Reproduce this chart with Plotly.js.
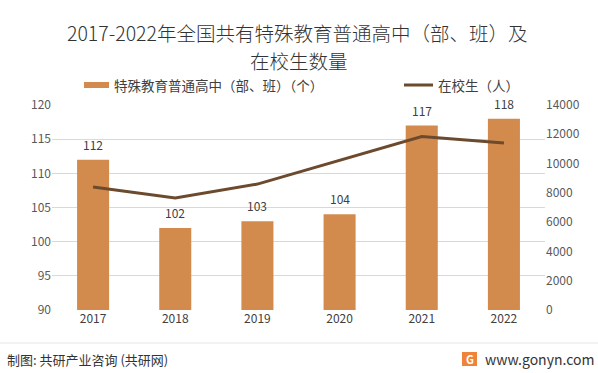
<!DOCTYPE html>
<html><head><meta charset="utf-8">
<script src="https://cdn.plot.ly/plotly-3.0.1.min.js"></script>
<style>html,body{margin:0;padding:0;background:#fff}#chart{width:598px;height:373px}</style>
</head><body><div id="chart"></div>
<script>
const titleLines = ['2017-2022年全国共有特殊教育普通高中（部、班）及', '在校生数量'];
const years = ['2017','2018','2019','2020','2021','2022'];
const schools = [112, 102, 103, 104, 117, 118];
const students = [8400, 7650, 8600, 10200, 11850, 11400];
const leftTicks = [90, 95, 100, 105, 110, 115, 120];
const rightTicks = [0, 2000, 4000, 6000, 8000, 10000, 12000, 14000];
const seriesNames = ['特殊教育普通高中（部、班）（个）', '在校生（人）'];

const font = '"Noto Sans CJK SC", "Noto Sans", sans-serif';
const barColor = '#D38B4D', lineColor = '#6B4A2D';
// pixel helpers for decorations outside the plot area
const L = 52, R = 545, T = 105, B = 310;
const px = x => (x - L) / (R - L);
const py = y => (B - y) / (B - T);

const traces = [
  {type:'bar', x:years, y:schools, name:seriesNames[0], marker:{color:barColor}, showlegend:false},
  {type:'scatter', mode:'lines', x:years, y:students, yaxis:'y2', name:seriesNames[1],
   line:{color:lineColor, width:3}, showlegend:false}
];
const titleFont = {size:19.5, color:'#333', family:font, weight:300};
const annotations = [
  {text:titleLines[0], xref:'paper', yref:'paper', x:px(297), y:py(33), xanchor:'center', yanchor:'middle', showarrow:false, font:titleFont},
  {text:titleLines[1], xref:'paper', yref:'paper', x:px(299), y:py(60), xanchor:'center', yanchor:'middle', showarrow:false, font:titleFont},
  {text:seriesNames[0], xref:'paper', yref:'paper', x:px(112), y:py(85), xanchor:'left', yanchor:'middle', showarrow:false, font:{size:13.5, color:'#404040', family:font}},
  {text:seriesNames[1], xref:'paper', yref:'paper', x:px(436), y:py(85), xanchor:'left', yanchor:'middle', showarrow:false, font:{size:13.5, color:'#404040', family:font}},
  {text:'制图: 共研产业咨询 (共研网)', xref:'paper', yref:'paper', x:px(5), xanchor:'left', y:py(359), yanchor:'middle', showarrow:false, font:{size:13, color:'#333', family:font}},
  {text:'www.gonyn.com', xref:'paper', yref:'paper', x:px(596), xanchor:'right', y:py(359), yanchor:'middle', showarrow:false, font:{size:14, color:'#333', family:font}},
  {text:'<b>G</b>', xref:'paper', yref:'paper', x:px(469.5), xanchor:'center', y:py(359), yanchor:'middle', showarrow:false, font:{size:11, color:'#fff', family:font}}
];
years.forEach((yr, i) => annotations.push({
  text:String(schools[i]), x:i, y:schools[i], xref:'x', yref:'y', xanchor:'center', yanchor:'bottom', yshift:5,
  showarrow:false, font:{size:12, color:'#404040', family:font}
}));
const layout = {
  width:598, height:373,
  margin:{l:L, r:598-R, t:T, b:373-B},
  paper_bgcolor:'#fff', plot_bgcolor:'#fff',
  font:{family:font, size:12, color:'#595959'},
  bargap:0.61,
  showlegend:false,
  xaxis:{type:'category', range:[-0.5, years.length-0.5], autorange:false, showgrid:false, showline:false, ticks:'', tickfont:{size:12, color:'#404040'}},
  yaxis:{range:[90,120], autorange:false, tickvals:leftTicks, showgrid:true, gridcolor:'#D9D9D9', gridwidth:1, zeroline:false, showline:false, ticks:'', tickfont:{size:12, color:'#595959'}},
  yaxis2:{range:[0,14000], autorange:false, tickvals:rightTicks, ticktext:rightTicks.map(String), overlaying:'y', side:'right', showgrid:false, zeroline:false, showline:false, ticks:'', tickfont:{size:12, color:'#595959'}},
  shapes:[
    {type:'rect', xref:'paper', yref:'paper', x0:px(84), x1:px(109), y0:py(88), y1:py(82), fillcolor:barColor, line:{width:0}},
    {type:'line', xref:'paper', yref:'paper', x0:px(404), x1:px(433), y0:py(85), y1:py(85), line:{color:lineColor, width:3}},
    {type:'line', xref:'paper', yref:'paper', x0:px(0), x1:px(598), y0:py(343), y1:py(343), line:{color:'#E6E6E6', width:1}},
    {type:'rect', xref:'paper', yref:'paper', x0:px(462), x1:px(477), y0:py(366), y1:py(352), fillcolor:'#F0833A', line:{width:0}}
  ],
  annotations:annotations
};
Plotly.newPlot('chart', traces, layout, {displayModeBar:false, staticPlot:true});
</script></body></html>
